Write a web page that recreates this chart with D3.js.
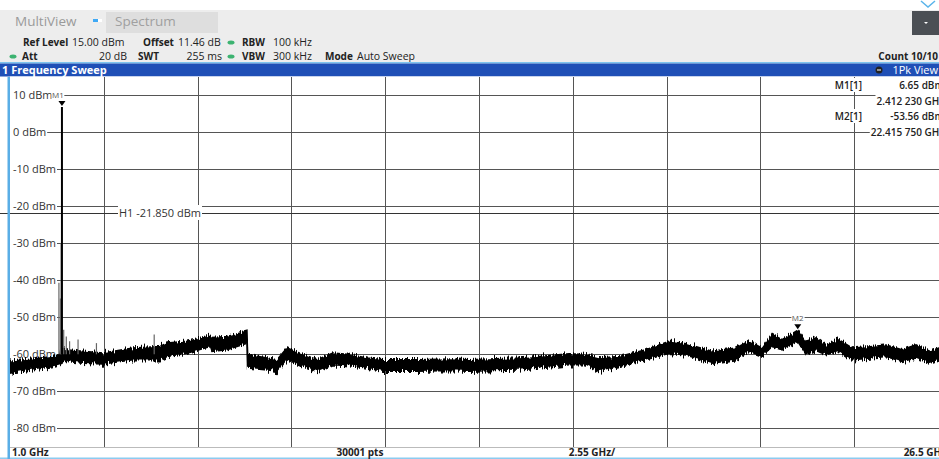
<!DOCTYPE html>
<html>
<head>
<meta charset="utf-8">
<script src="https://cdn.jsdelivr.net/npm/d3@7"></script>
<style>
  body { margin: 0; background: #fff; }
  text { font-family: "Open Sans", "Noto Sans", sans-serif; }
</style>
</head>
<body>
<div id="screen"></div>
<script>
// trace envelope (GHz, dBm)
const freqs = [1.00, 1.63, 2.17, 2.36, 2.39, 2.50, 2.98, 3.53, 4.34, 5.08, 5.27, 5.81, 6.44, 6.49, 6.90, 7.44, 7.46,
  7.99, 8.26, 8.53, 8.88, 9.35, 9.78, 10.24, 10.70, 11.14, 12.06, 12.96, 13.48, 14.84, 15.38, 16.20, 16.63,
  17.01, 17.56, 18.29, 18.92, 19.38, 20.08, 20.74, 21.09, 21.44, 21.72, 21.99, 22.416, 22.64, 22.91, 23.18,
  23.54, 23.89, 24.38, 24.82, 25.25, 25.63, 26.00, 26.27, 26.50];
const traceTop = [-61.9, -61.3, -60.6, -60.0, -58.0, -58.8, -59.2, -59.7, -58.3, -57.9, -57.0, -56.5, -55.2, -55.5, -55.2, -53.8, -60.1,
  -61.0, -61.5, -58.3, -59.7, -61.5, -59.7, -60.1, -61.0, -61.5, -61.5, -61.3, -61.5, -61.0, -60.6, -59.9, -60.1,
  -61.0, -60.6, -58.8, -56.5, -57.2, -59.2, -58.3, -56.5, -58.3, -54.7, -56.1, -53.56, -56.5, -55.6, -57.4,
  -56.1, -58.3, -58.0, -57.5, -58.8, -57.5, -59.2, -58.3, -58.8];
const traceBottom = [-65.1, -64.2, -63.3, -62.8, -62.5, -61.9, -62.4, -62.6, -61.5, -61.5, -60.6, -59.7, -57.9, -59.2, -58.8, -57.0, -63.7,
  -64.2, -64.6, -61.5, -62.8, -64.6, -62.8, -63.1, -63.7, -64.6, -64.6, -64.4, -64.6, -64.2, -63.7, -62.8, -62.8,
  -64.6, -63.3, -61.5, -59.7, -60.2, -62.4, -61.5, -59.2, -60.5, -57.9, -58.8, -56.5, -60.1, -59.0, -60.1,
  -59.2, -61.5, -61.0, -60.6, -61.9, -61.0, -62.4, -61.5, -62.0];

// spurs around the carrier
const spurFreqs = [2.33, 2.37, 2.39, 2.46, 2.53, 2.62, 2.85, 3.35, 4.92];
const spurLevels = [-40.7, -45.0, -30.0, -53.4, -55.2, -56.5, -56.0, -57.0, -54.7];

// markers
const markerNames = ["M1", "M2"];
const markerFreqs = [2.41223, 22.41575];
const markerLevels = [6.65, -53.56];
const markerFreqText = ["2.412 230 GHz", "22.415 750 GHz"];
const markerLevelText = ["6.65 dBm", "-53.56 dBm"];

const yTicks = [10, 0, -10, -20, -30, -40, -50, -60, -70, -80];
const lineH1 = -21.85;
const xStart = 1.0, xStop = 26.5, xDiv = 2.55;

const W = 939, H = 459;
const svg = d3.select('#screen').append('svg')
  .attr('width', W).attr('height', H);

const x = d3.scaleLinear().domain([xStart, xStop]).range([10, 948]);
const y = d3.scaleLinear().domain([-85, 15]).range([447, 76]);

// puts a white box behind a text node
function boxBehind(t, pad, left) {
  const b = t.node().getBBox();
  const x0 = left !== undefined ? left : b.x - pad;
  d3.select(t.node().parentNode).insert('rect', () => t.node())
    .attr('x', x0).attr('y', b.y).attr('width', b.x + b.width + pad - x0).attr('height', b.height)
    .attr('fill', '#fff');
}

// ---------- header ----------
svg.append('rect').attr('x', 0).attr('y', 10).attr('width', W).attr('height', 53).attr('fill', '#ededed');
svg.append('text').attr('x', 15).attr('y', 26).attr('font-size', 13.5).attr('fill', '#9a9a9a').text('MultiView');
svg.append('rect').attr('x', 93).attr('y', 19).attr('width', 5).attr('height', 3).attr('fill', '#3fa9f5');
svg.append('rect').attr('x', 98).attr('y', 19).attr('width', 4).attr('height', 3).attr('fill', '#fff');
svg.append('rect').attr('x', 106).attr('y', 12).attr('width', 112).attr('height', 21).attr('fill', '#dedede');
svg.append('text').attr('x', 115).attr('y', 26).attr('font-size', 13.5).attr('fill', '#a0a0a0').text('Spectrum');
svg.append('rect').attr('x', 912).attr('y', 11).attr('width', 27).attr('height', 24).attr('fill', '#4b4f54');
svg.append('path').attr('d', 'M924,22 L928,22 L926,24 Z').attr('fill', '#fff');
svg.append('path').attr('d', 'M921,1 L928,7 L935,1').attr('fill', 'none').attr('stroke', '#5ab4ea').attr('stroke-width', 1.5);

const info = svg.append('g').attr('fill', '#222');
function infoText(px, py, s, bold, anchor) {
  info.append('text').attr('x', px).attr('y', py)
    .attr('font-size', bold ? 10 : 10.5).attr('font-weight', bold ? 700 : 400)
    .attr('text-anchor', anchor || 'start').text(s);
}
infoText(23, 46, 'Ref Level', true); infoText(72, 46, '15.00 dBm');
infoText(143, 46, 'Offset', true); infoText(178, 46, '11.46 dB');
infoText(242, 46, 'RBW', true); infoText(273, 46, '100 kHz');
infoText(22, 60, 'Att', true); infoText(127, 60, '20 dB', false, 'end');
infoText(138, 60, 'SWT', true); infoText(222, 60, '255 ms', false, 'end');
infoText(242, 60, 'VBW', true); infoText(273, 60, '300 kHz');
infoText(325, 60, 'Mode', true); infoText(357, 60, 'Auto Sweep');
infoText(938, 60, 'Count 10/10', true, 'end');
[[230, 42], [12, 56], [230, 56]].forEach(d => {
  svg.append('ellipse').attr('cx', d[0] + 1).attr('cy', d[1] + 0.5).attr('rx', 3.5).attr('ry', 2).attr('fill', '#3cb371');
});

// title bar
svg.append('rect').attr('x', 0).attr('y', 62).attr('width', W).attr('height', 1.5).attr('fill', '#7cc3ee');
svg.append('rect').attr('x', 0).attr('y', 63.5).attr('width', W).attr('height', 13).attr('fill', '#1f4fb6');
svg.append('text').attr('x', 2).attr('y', 74).attr('font-size', 11).attr('font-weight', 700).attr('fill', '#fff')
  .text('1 Frequency Sweep');
svg.append('text').attr('x', 938).attr('y', 74).attr('font-size', 11).attr('fill', '#fff').attr('text-anchor', 'end')
  .text('1Pk View');
svg.append('circle').attr('cx', 879).attr('cy', 70).attr('r', 3.5).attr('fill', '#222');
svg.append('rect').attr('x', 877).attr('y', 69.5).attr('width', 4).attr('height', 1).attr('fill', '#fff');

// ---------- plot ----------
const plot = svg.append('g');
plot.append('rect').attr('x', 10).attr('y', 76.5).attr('width', W - 10).attr('height', 371).attr('fill', '#fff');

const vTicks = d3.range(1, 10).map(k => xStart + k * xDiv);
plot.selectAll('.vgrid').data(vTicks).enter().append('line')
  .attr('x1', d => Math.round(x(d)) + 0.5).attr('x2', d => Math.round(x(d)) + 0.5)
  .attr('y1', 77).attr('y2', 447)
  .attr('stroke', '#555').attr('stroke-width', 1);
plot.selectAll('.hgrid').data(yTicks).enter().append('line')
  .attr('x1', 10).attr('x2', W)
  .attr('y1', d => Math.round(y(d)) + 0.5).attr('y2', d => Math.round(y(d)) + 0.5)
  .attr('stroke', '#555').attr('stroke-width', 1);

yTicks.forEach(v => {
  const t = plot.append('text').attr('x', 13).attr('y', Math.round(y(v)) + 4)
    .attr('font-size', 11).attr('fill', '#333').text(v + ' dBm');
  boxBehind(t, 1, 10);
});

// display line H1
plot.append('line').attr('x1', 0).attr('x2', W)
  .attr('y1', Math.round(y(lineH1)) + 0.5).attr('y2', Math.round(y(lineH1)) + 0.5)
  .attr('stroke', '#333').attr('stroke-width', 1);
const h1 = plot.append('text').attr('x', 119).attr('y', Math.round(y(lineH1)) + 4)
  .attr('font-size', 11).attr('fill', '#333').text('H1 ' + lineH1.toFixed(3) + ' dBm');
boxBehind(h1, 1);

// trace (min/max envelope with a little jitter filter for the noise grass)
const defs = svg.append('defs');
const f = defs.append('filter').attr('id', 'grass').attr('filterUnits', 'userSpaceOnUse')
  .attr('x', 0).attr('y', 60).attr('width', W).attr('height', 400);
f.append('feTurbulence').attr('type', 'fractalNoise').attr('baseFrequency', '0.9 0.02')
  .attr('numOctaves', 2).attr('seed', 3).attr('result', 'noise');
f.append('feColorMatrix').attr('in', 'noise').attr('type', 'matrix')
  .attr('values', '0 0 0 0 0.5  0 1 0 0 0  0 0 0 0 0  0 0 0 0 1').attr('result', 'map');
f.append('feDisplacementMap').attr('in', 'SourceGraphic').attr('in2', 'map')
  .attr('scale', 10).attr('xChannelSelector', 'R').attr('yChannelSelector', 'G');

const traceData = freqs.map((fr, i) => ({ f: fr, top: traceTop[i], bot: traceBottom[i] }));
const band = d3.area().x(d => x(d.f)).y0(d => y(d.bot)).y1(d => y(d.top));
plot.append('path').datum(traceData).attr('d', band)
  .attr('fill', '#000').attr('stroke', '#000').attr('stroke-width', 1.6)
  .attr('filter', 'url(#grass)');

plot.selectAll('.spur').data(spurFreqs).enter().append('line')
  .attr('x1', d => x(d)).attr('x2', d => x(d))
  .attr('y1', (d, i) => y(spurLevels[i])).attr('y2', y(-60))
  .attr('stroke', '#666').attr('stroke-width', 1.2);

// carrier
plot.append('line').attr('x1', x(markerFreqs[0])).attr('x2', x(markerFreqs[0]))
  .attr('y1', y(markerLevels[0])).attr('y2', y(-60))
  .attr('stroke', '#000').attr('stroke-width', 2);

// markers
markerNames.forEach((m, i) => {
  const mx = x(markerFreqs[i]), my = y(markerLevels[i]);
  plot.append('path').attr('d', `M${mx - 3.5},${my - 6} L${mx + 3.5},${my - 6} L${mx},${my - 1} Z`).attr('fill', '#000');
  const lx = i === 0 ? mx - 4 : mx;
  const ly = i === 0 ? y(10) + 3 : my - 9;
  const t = plot.append('text').attr('x', lx).attr('y', ly).attr('font-size', 8)
    .attr('fill', '#555').attr('text-anchor', 'middle').text(m);
  boxBehind(t, 0.5);
});

// marker table
const table = svg.append('g').attr('font-size', 10).attr('font-weight', 600).attr('fill', '#222');
markerNames.forEach((m, i) => {
  const ry = 89 + i * 31;
  let t = table.append('text').attr('x', 862).attr('y', ry).attr('text-anchor', 'end').text(m + '[1]');
  boxBehind(t, 1);
  t = table.append('text').attr('x', 944).attr('y', ry).attr('text-anchor', 'end').text(markerLevelText[i]);
  boxBehind(t, 1);
  t = table.append('text').attr('x', 944).attr('y', ry + 15.5).attr('text-anchor', 'end').text(markerFreqText[i]);
  boxBehind(t, 1);
});

// ---------- bottom bar ----------
svg.append('rect').attr('x', 0).attr('y', 447).attr('width', W).attr('height', 12).attr('fill', '#fff');
svg.append('line').attr('x1', 10).attr('x2', W).attr('y1', 447.5).attr('y2', 447.5).attr('stroke', '#bbb');
svg.append('rect').attr('x', 0).attr('y', 457.5).attr('width', W).attr('height', 1.5).attr('fill', '#8ccbf0');
const foot = svg.append('g').attr('font-size', 10).attr('font-weight', 700).attr('fill', '#222');
foot.append('text').attr('x', 12).attr('y', 456).text(xStart.toFixed(1) + ' GHz');
foot.append('text').attr('x', 360).attr('y', 456).attr('text-anchor', 'middle').text('30001 pts');
foot.append('text').attr('x', 592).attr('y', 456).attr('text-anchor', 'middle').text(xDiv.toFixed(2) + ' GHz/');
foot.append('text').attr('x', 946).attr('y', 456).attr('text-anchor', 'end').text(xStop.toFixed(1) + ' GHz');

// left frame
svg.append('rect').attr('x', 7.5).attr('y', 77).attr('width', 2.5).attr('height', H - 77).attr('fill', '#5aaee6');
</script>
</body>
</html>
